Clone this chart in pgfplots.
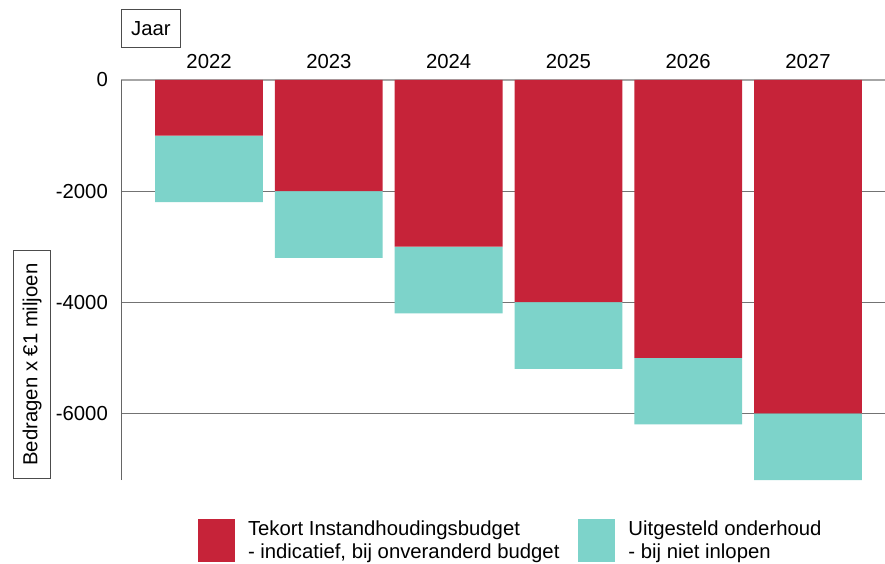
\documentclass[border=0pt]{standalone}
\usepackage{pgfplots}
\pgfplotsset{compat=1.18}
\usepackage{fontspec}
\setmainfont{Liberation Sans}
\definecolor{redbar}{HTML}{C62339}
\definecolor{tealbar}{HTML}{7DD3CA}
\pgfplotsset{myleg/.style={legend image code/.code={\fill[##1] (0bp,-21.5bp) rectangle (37bp,21.5bp);}}}
\begin{document}
\begin{tikzpicture}[font=\fontsize{20.3bp}{23bp}\selectfont]
\path[use as bounding box] (0,0) rectangle (885bp,564bp);
\begin{axis}[
 at={(121bp,84bp)}, anchor=south west,
 scale only axis, width=764bp, height=400bp,
 ybar stacked, bar width=0.9,
 xmin=-0.735, xmax=5.643, ymin=-7200, ymax=0,
 axis x line*=top, axis y line*=left,
 x axis line style={draw=black!35, line width=1.2bp},
 y axis line style={draw=black!60, line width=1bp},
 xtick={0,1,2,3,4,5}, xticklabels={2022,2023,2024,2025,2026,2027},
 ytick={-6000,-4000,-2000,0}, yticklabels={-6000,-4000,-2000,0},
 major tick length=0pt,
 xtick style={draw=none}, ytick style={draw=none},
 ymajorgrids, grid style={draw=black!55, line width=1bp},
 yticklabel style={inner sep=0pt, xshift=-13bp},
 xticklabel style={inner sep=0pt, anchor=base, yshift=11bp},
 legend columns=2,
 legend style={at={(0.1008,0)}, anchor=north west, yshift=-39bp, draw=none,
   inner sep=0pt, outer sep=0pt, column sep=13bp,
   /tikz/every even column/.append style={column sep=19bp},
   nodes={inner sep=0pt, align=left, anchor=west}},
 clip=false,
]
\addplot[fill=redbar, draw=none, myleg] coordinates {(0,-1000) (1,-2000) (2,-3000) (3,-4000) (4,-5000) (5,-6000)};
\addlegendentry{Tekort Instandhoudingsbudget\\- indicatief, bij onveranderd budget}
\addplot[fill=tealbar, draw=none, myleg] coordinates {(0,-1200) (1,-1200) (2,-1200) (3,-1200) (4,-1200) (5,-1200)};
\addlegendentry{Uitgesteld onderhoud\\- bij niet inlopen}
\node[draw=black!70, line width=0.8bp, minimum width=59bp, minimum height=38bp, inner sep=0pt, anchor=south west] at ([yshift=32bp]rel axis cs:0,1) {Jaar};
\node[draw=black!70, line width=0.8bp, rotate=90, anchor=south west, minimum width=228bp, minimum height=37bp, inner sep=0pt] at ([xshift=-70bp, yshift=1bp]rel axis cs:0,0) {Bedragen x €1 miljoen};
\end{axis}
\end{tikzpicture}
\end{document}
